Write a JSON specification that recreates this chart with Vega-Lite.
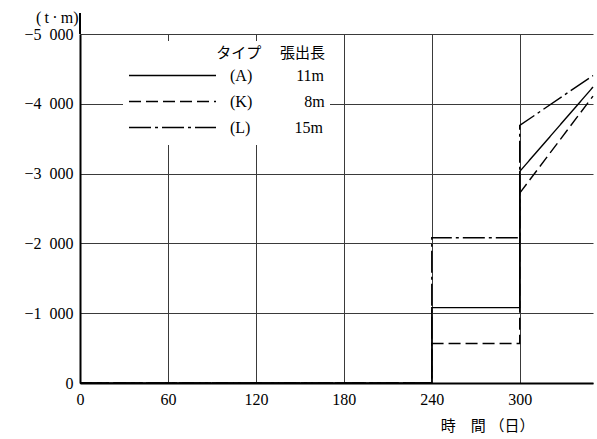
{
  "$schema": "https://vega.github.io/schema/vega-lite/v6.json",
  "width": 513,
  "height": 349,
  "autosize": {"type": "none"},
  "padding": {"left": 80, "top": 34, "right": 4, "bottom": 56},
  "background": "white",
  "config": {"view": {"stroke": null}, "font": "Liberation Serif"},
  "layer": [
    {
      "data": {
        "values": [
          {"type": "(A)", "i": 1, "day": 0, "moment": 0},
          {"type": "(A)", "i": 2, "day": 240, "moment": 0},
          {"type": "(A)", "i": 3, "day": 240, "moment": -1080},
          {"type": "(A)", "i": 4, "day": 300, "moment": -1080},
          {"type": "(A)", "i": 5, "day": 300, "moment": -3030},
          {"type": "(A)", "i": 6, "day": 350, "moment": -4240},
          {"type": "(K)", "i": 1, "day": 0, "moment": 0},
          {"type": "(K)", "i": 2, "day": 240, "moment": 0},
          {"type": "(K)", "i": 3, "day": 240, "moment": -565},
          {"type": "(K)", "i": 4, "day": 300, "moment": -565},
          {"type": "(K)", "i": 5, "day": 300, "moment": -2720},
          {"type": "(K)", "i": 6, "day": 350, "moment": -4110},
          {"type": "(L)", "i": 1, "day": 0, "moment": 0},
          {"type": "(L)", "i": 2, "day": 240, "moment": 0},
          {"type": "(L)", "i": 3, "day": 240, "moment": -2080},
          {"type": "(L)", "i": 4, "day": 300, "moment": -2080},
          {"type": "(L)", "i": 5, "day": 300, "moment": -3690},
          {"type": "(L)", "i": 6, "day": 350, "moment": -4405}
        ]
      },
      "mark": {"type": "line", "color": "black", "strokeWidth": 1.4},
      "encoding": {
        "x": {
          "field": "day",
          "type": "quantitative",
          "scale": {"domain": [0, 350], "nice": false},
          "axis": {
            "values": [0, 60, 120, 180, 240, 300],
            "title": "時　間 （日）",
            "grid": true,
            "gridColor": "#3a3a3a",
            "gridWidth": 1,
            "ticks": false,
            "domainColor": "black",
            "domainWidth": 2,
            "labelFont": "Liberation Serif",
            "labelFontSize": 16,
            "labelColor": "black",
            "labelPadding": 8,
            "labelFlush": false,
            "titleFont": "Liberation Serif, Noto Sans CJK JP",
            "titleFontSize": 15,
            "titleFontWeight": "normal",
            "titleColor": "black",
            "titleX": 407,
            "titleY": 42,
            "titleAlign": "center",
            "titleBaseline": "middle"
          }
        },
        "y": {
          "field": "moment",
          "type": "quantitative",
          "scale": {"domain": [0, -5000], "nice": false, "zero": false},
          "axis": {
            "values": [0, -1000, -2000, -3000, -4000, -5000],
            "labelExpr": "datum.value == 0 ? '0' : '−' + replace(format(-datum.value, ','), ',', '\u2002')",
            "title": "(\u2009t\u2009·\u2009m)",
            "titleAngle": 0,
            "titleX": -2,
            "titleY": -17,
            "titleAlign": "right",
            "titleBaseline": "middle",
            "titleFont": "Liberation Serif",
            "titleFontSize": 16,
            "titleFontWeight": "normal",
            "titleColor": "black",
            "grid": true,
            "gridColor": "#3a3a3a",
            "gridWidth": 1,
            "ticks": false,
            "domainColor": "black",
            "domainWidth": 2,
            "labelFont": "Liberation Serif",
            "labelFontSize": 16,
            "labelColor": "black",
            "labelPadding": 7
          }
        },
        "strokeDash": {
          "field": "type",
          "type": "nominal",
          "scale": {"domain": ["(A)", "(K)", "(L)"], "range": [[1, 0], [12, 5], [22, 4, 3, 4]]},
          "legend": {
            "orient": "none",
            "legendX": 43,
            "legendY": 7,
            "padding": 5,
            "fillColor": "white",
            "title": "タイプ　 張出長",
            "titleAnchor": "end",
            "titleFont": "Liberation Serif, Noto Sans CJK JP",
            "titleFontSize": 15,
            "titleFontWeight": "normal",
            "titleColor": "black",
            "titlePadding": 2,
            "symbolType": "stroke",
            "symbolSize": 7569,
            "symbolStrokeWidth": 1.3,
            "symbolStrokeColor": "black",
            "clipHeight": 25,
            "rowPadding": 1,
            "labelOffset": 13,
            "labelFont": "Liberation Serif",
            "labelFontSize": 16,
            "labelColor": "black",
            "labelExpr": "datum.value == '(A)' ? '(A)\u2003\u2003\u2002 11m' : datum.value == '(K)' ? '(K)\u2003\u2003\u2002 \u20028m' : '(L)\u2003\u2003\u2002 15m'"
          }
        },
        "order": {"field": "i", "type": "quantitative"}
      }
    },
    {
      "data": {"values": [{}]},
      "mark": {"type": "rule", "color": "black", "strokeWidth": 2},
      "encoding": {
        "x": {"datum": 0},
        "y": {"datum": -5000},
        "y2": {"datum": -5300}
      }
    }
  ]
}
